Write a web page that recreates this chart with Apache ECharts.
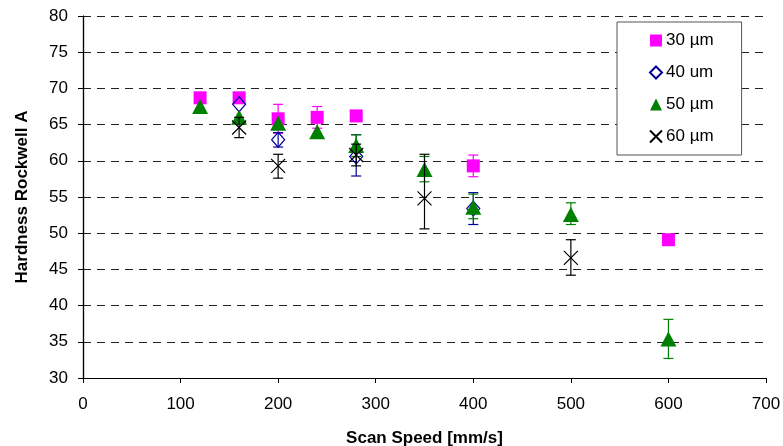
<!DOCTYPE html>
<html>
<head>
<meta charset="utf-8">
<script src="https://cdn.jsdelivr.net/npm/echarts@6/dist/echarts.min.js"></script>
<style>
  html, body { margin: 0; padding: 0; background: #fff; }
  #chart { width: 783px; height: 446px; }
</style>
</head>
<body>
<div id="chart"></div>
<script>
// values
var names = ['30 µm', '40 um', '50 µm', '60 µm'];
var xTicks = [0, 100, 200, 300, 400, 500, 600, 700];
var yTicks = [30, 35, 40, 45, 50, 55, 60, 65, 70, 75, 80];

var speeds30 = [120, 160, 200, 240, 280, 400, 600];
var hard30 = [68.7, 68.7, 65.8, 66.0, 66.2, 59.3, 49.1];
var bars30 = [[200, 63.8, 67.8], [240, 64.5, 67.5], [400, 57.8, 60.8]];

var speeds40 = [160, 200, 280, 400];
var hard40 = [67.8, 62.9, 60.6, 53.4];
var bars40 = [[200, 61.9, 63.9], [280, 57.9, 63.6], [400, 51.2, 55.6]];

var speeds50 = [120, 160, 200, 240, 280, 350, 400, 500, 600];
var hard50 = [67.5, 66.0, 65.2, 64.0, 62.1, 58.8, 53.6, 52.6, 35.4];
var bars50 = [[280, 60.6, 63.6], [350, 57.1, 60.6], [400, 52.0, 55.4], [500, 51.2, 54.2], [600, 32.7, 38.1]];

var speeds60 = [160, 200, 280, 350, 500];
var hard60 = [64.6, 59.3, 60.8, 54.8, 46.6];
var bars60 = [[160, 63.2, 66.0], [200, 57.6, 60.9], [280, 59.3, 62.3], [350, 50.6, 60.9], [500, 44.2, 49.1]];

var colors = ['#ff00ff', '#000099', '#008000', '#000000'];
var crossPath = 'path://M0,0L10,10M10,0L0,10';

function pairs(xs, ys) {
    var out = [];
    for (var i = 0; i < xs.length; i++) out.push([xs[i], ys[i]]);
    return out;
}

// error bars drawn as a custom series (vertical line + caps)
function errorSeries(bars, color, z) {
    return {
        name: 'err',
        type: 'custom',
        z: z,
        data: bars,
        renderItem: function (params, api) {
            var top = api.coord([api.value(0), api.value(2)]);
            var bot = api.coord([api.value(0), api.value(1)]);
            var w = 5;
            var st = {stroke: color, lineWidth: 1.2};
            return {
                type: 'group',
                children: [
                    {type: 'line', shape: {x1: top[0], y1: top[1], x2: bot[0], y2: bot[1]}, style: st},
                    {type: 'line', shape: {x1: top[0] - w, y1: top[1], x2: top[0] + w, y2: top[1]}, style: st},
                    {type: 'line', shape: {x1: bot[0] - w, y1: bot[1], x2: bot[0] + w, y2: bot[1]}, style: st}
                ]
            };
        }
    };
}

var chart = echarts.init(document.getElementById('chart'));

var option = {
    animation: false,
    textStyle: {fontFamily: 'Liberation Sans, Arial, sans-serif'},
    grid: {left: 83, right: 17, top: 16, bottom: 68, containLabel: false, outerBoundsMode: 'none'},
    legend: {
        orient: 'vertical',
        left: 617,
        top: 22,
        padding: [10, 28, 10, 32],
        itemGap: 15,
        itemWidth: 12,
        itemHeight: 12,
        backgroundColor: '#fff',
        borderColor: '#555',
        borderWidth: 1,
        textStyle: {fontSize: 17, color: '#000', padding: [0, 0, 0, -1]},
        data: names
    },
    xAxis: [{
        type: 'value',
        min: 0,
        max: 700,
        interval: 100,
        name: 'Scan Speed [mm/s]',
        nameLocation: 'middle',
        nameGap: 52,
        nameTextStyle: {fontSize: 17, fontWeight: 'bold', color: '#000'},
        axisLine: {onZero: false, lineStyle: {color: '#000', width: 1.2}},
        axisTick: {show: true, length: 5, lineStyle: {color: '#000'}},
        axisLabel: {fontSize: 17, color: '#000', margin: 18,
            formatter: function (v) { return xTicks.indexOf(v) >= 0 ? v : ''; }},
        splitLine: {show: false}
    }],
    yAxis: [{
        type: 'value',
        min: 30,
        max: 80,
        interval: 5,
        name: 'Hardness Rockwell A',
        nameLocation: 'middle',
        nameGap: 52,
        nameTextStyle: {fontSize: 17, fontWeight: 'bold', color: '#000'},
        axisLine: {show: true, onZero: false, lineStyle: {color: '#000', width: 1.2}},
        axisTick: {show: true, length: 5, lineStyle: {color: '#000'}},
        axisLabel: {fontSize: 17, color: '#000', margin: 15,
            formatter: function (v) { return yTicks.indexOf(v) >= 0 ? v : ''; }},
        splitLine: {show: true, lineStyle: {color: '#222', type: [8, 6], width: 1}}
    }, {
        type: 'value',
        min: 30,
        max: 80,
        interval: 5,
        position: 'right',
        axisLine: {show: true, lineStyle: {color: '#000', width: 1.2}},
        axisTick: {show: false},
        axisLabel: {show: false},
        splitLine: {show: false}
    }],
    series: [
        {
            name: '30 µm', type: 'scatter', z: 3, symbol: 'rect', symbolSize: 13,
            itemStyle: {color: colors[0], opacity: 1},
            data: pairs(speeds30, hard30)
        },
        {
            name: '40 um', type: 'scatter', z: 5, symbol: 'diamond', symbolSize: [13, 15],
            itemStyle: {color: 'rgba(255,255,255,0)', borderColor: colors[1], borderWidth: 1.2, opacity: 1},
            data: pairs(speeds40, hard40)
        },
        {
            name: '50 µm', type: 'scatter', z: 7, symbol: 'triangle', symbolSize: [16, 15],
            itemStyle: {color: colors[2], opacity: 1},
            data: pairs(speeds50, hard50)
        },
        {
            name: '60 µm', type: 'scatter', z: 9, symbol: crossPath, symbolSize: 14,
            itemStyle: {color: 'rgba(0,0,0,0)', borderColor: colors[3], borderWidth: 1.2, opacity: 1},
            data: pairs(speeds60, hard60)
        },
        errorSeries(bars30, colors[0], 2),
        errorSeries(bars40, colors[1], 4),
        errorSeries(bars50, colors[2], 6),
        errorSeries(bars60, colors[3], 8)
    ]
};

chart.setOption(option);
</script>
</body>
</html>
